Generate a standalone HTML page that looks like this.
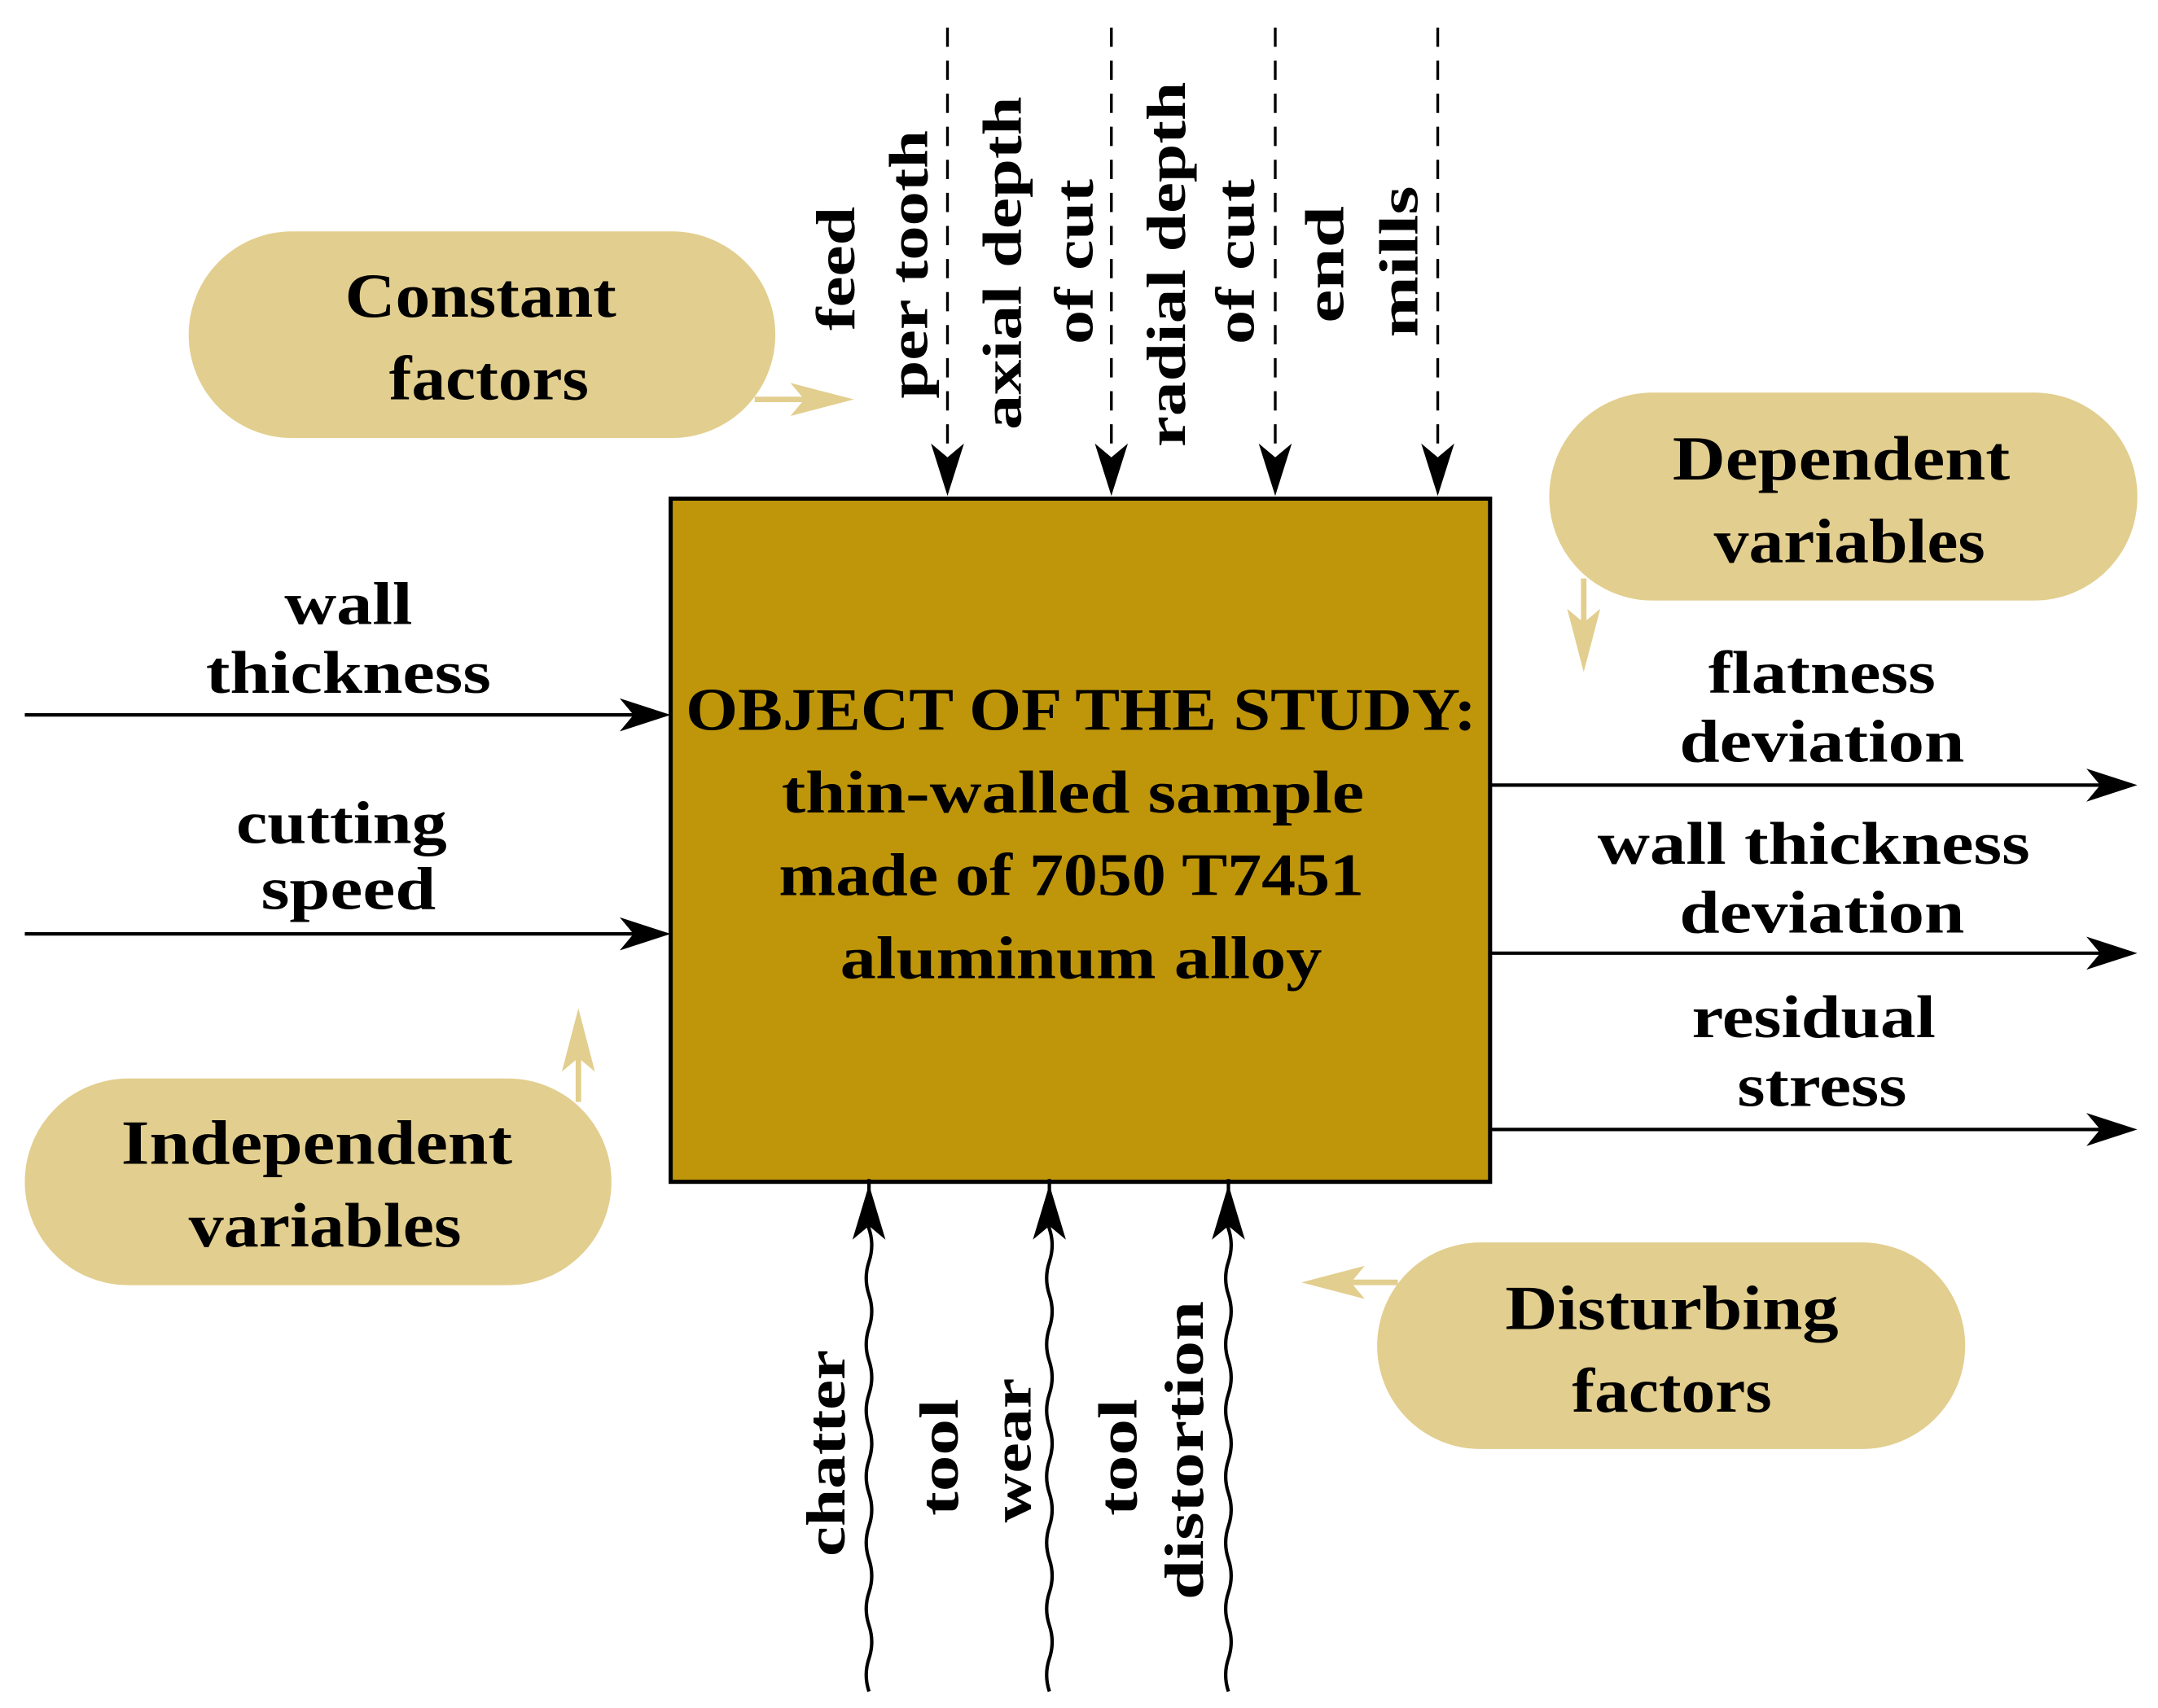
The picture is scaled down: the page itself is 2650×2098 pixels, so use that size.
<!DOCTYPE html>
<html><head><meta charset="utf-8"><style>
html,body{margin:0;padding:0;background:#fff;}
svg{display:block;}
text{font-family:"Liberation Serif",serif;font-weight:bold;fill:#000;}
.v{font-size:40px;}
</style></head><body>
<svg width="2650" height="2098" viewBox="0 0 1567 1240" preserveAspectRatio="none" xmlns="http://www.w3.org/2000/svg">
<rect x="487" y="362" width="595" height="496" fill="#BF960A" stroke="#000" stroke-width="3"/>
<g text-anchor="middle" font-size="44" lengthAdjust="spacingAndGlyphs">
<text x="785" y="530" textLength="574" lengthAdjust="spacingAndGlyphs">OBJECT OF THE STUDY:</text>
<text x="779" y="590" textLength="423" lengthAdjust="spacingAndGlyphs">thin-walled sample</text>
<text x="778" y="650" textLength="425" lengthAdjust="spacingAndGlyphs">made of 7050 T7451</text>
<text x="785" y="710" textLength="350" lengthAdjust="spacingAndGlyphs">aluminum alloy</text>
</g>
<g fill="#E2CE8E">
<rect x="137" y="168" width="426" height="150" rx="75"/>
<rect x="1125" y="285" width="427" height="151" rx="75"/>
<rect x="18" y="783" width="426" height="150" rx="75"/>
<rect x="1000" y="902" width="427" height="150" rx="75"/>
</g>
<g text-anchor="middle" font-size="46">
<text x="349" y="230" textLength="197" lengthAdjust="spacingAndGlyphs">Constant</text>
<text x="355" y="290" textLength="145" lengthAdjust="spacingAndGlyphs">factors</text>
<text x="1337" y="348" textLength="245" lengthAdjust="spacingAndGlyphs">Dependent</text>
<text x="1343" y="408" textLength="197" lengthAdjust="spacingAndGlyphs">variables</text>
<text x="230" y="845" textLength="284" lengthAdjust="spacingAndGlyphs">Independent</text>
<text x="236" y="905" textLength="198" lengthAdjust="spacingAndGlyphs">variables</text>
<text x="1214" y="965" textLength="242" lengthAdjust="spacingAndGlyphs">Disturbing</text>
<text x="1214" y="1025" textLength="145" lengthAdjust="spacingAndGlyphs">factors</text>
</g>
<g stroke="#E2CE8E" stroke-width="4" fill="#E2CE8E">
<line x1="548" y1="290" x2="600" y2="290"/>
<line x1="1150" y1="420" x2="1150" y2="470"/>
<line x1="420" y1="800" x2="420" y2="750"/>
<line x1="1015" y1="931" x2="965" y2="931"/>
</g>
<g fill="#E2CE8E">
<polygon points="620,290 574,278 584,290 574,302"/>
<polygon points="1150,488 1138,442 1150,452 1162,442"/>
<polygon points="420,732 408,778 420,768 432,778"/>
<polygon points="945,931 991,919 981,931 991,943"/>
</g>
<g stroke="#000" stroke-width="2" stroke-dasharray="14,10">
<line x1="688" y1="20" x2="688" y2="332"/>
<line x1="807" y1="20" x2="807" y2="332"/>
<line x1="926" y1="20" x2="926" y2="332"/>
<line x1="1044" y1="20" x2="1044" y2="332"/>
</g>
<g fill="#000">
<polygon points="688,360 676,322 688,332 700,322"/>
<polygon points="807,360 795,322 807,332 819,322"/>
<polygon points="926,360 914,322 926,332 938,322"/>
<polygon points="1044,360 1032,322 1044,332 1056,322"/>
</g>
<g class="v" text-anchor="middle" dominant-baseline="central">
<text transform="translate(607,195) rotate(-90)" textLength="90" lengthAdjust="spacingAndGlyphs">feed</text>
<text transform="translate(660,192) rotate(-90)" textLength="195" lengthAdjust="spacingAndGlyphs">per tooth</text>
<text transform="translate(728,191) rotate(-90)" textLength="242" lengthAdjust="spacingAndGlyphs">axial depth</text>
<text transform="translate(780,190) rotate(-90)" textLength="120" lengthAdjust="spacingAndGlyphs">of cut</text>
<text transform="translate(847,192) rotate(-90)" textLength="265" lengthAdjust="spacingAndGlyphs">radial depth</text>
<text transform="translate(897,190) rotate(-90)" textLength="120" lengthAdjust="spacingAndGlyphs">of cut</text>
<text transform="translate(962,192) rotate(-90)" textLength="85" lengthAdjust="spacingAndGlyphs">end</text>
<text transform="translate(1016,190) rotate(-90)" textLength="110" lengthAdjust="spacingAndGlyphs">mills</text>
</g>
<g stroke="#000" stroke-width="2.5">
<line x1="18" y1="519" x2="460" y2="519"/>
<line x1="18" y1="678" x2="460" y2="678"/>
<line x1="1082" y1="570" x2="1525" y2="570"/>
<line x1="1082" y1="692" x2="1525" y2="692"/>
<line x1="1082" y1="820" x2="1525" y2="820"/>
</g>
<g fill="#000">
<polygon points="487,519 450,507 460,519 450,531"/>
<polygon points="487,678 450,666 460,678 450,690"/>
<polygon points="1552,570 1515,558 1525,570 1515,582"/>
<polygon points="1552,692 1515,680 1525,692 1515,704"/>
<polygon points="1552,820 1515,808 1525,820 1515,832"/>
</g>
<g text-anchor="middle" font-size="44">
<text x="253" y="453" textLength="93" lengthAdjust="spacingAndGlyphs">wall</text>
<text x="253" y="503" textLength="207" lengthAdjust="spacingAndGlyphs">thickness</text>
<text x="248" y="612" textLength="153" lengthAdjust="spacingAndGlyphs">cutting</text>
<text x="253" y="660" textLength="127" lengthAdjust="spacingAndGlyphs">speed</text>
<text x="1323" y="503" textLength="165" lengthAdjust="spacingAndGlyphs">flatness</text>
<text x="1323" y="553" textLength="207" lengthAdjust="spacingAndGlyphs">deviation</text>
<text x="1317" y="627" textLength="314" lengthAdjust="spacingAndGlyphs">wall thickness</text>
<text x="1323" y="677" textLength="207" lengthAdjust="spacingAndGlyphs">deviation</text>
<text x="1317" y="753" textLength="177" lengthAdjust="spacingAndGlyphs">residual</text>
<text x="1323" y="803" textLength="123" lengthAdjust="spacingAndGlyphs">stress</text>
</g>
<g stroke="#000" stroke-width="2.5" fill="none">
<path d="M631,1228 q-4,-12 0,-24 t0,-24 t0,-24 t0,-24 t0,-24 t0,-24 t0,-24 t0,-24 t0,-24 t0,-24 t0,-24 t0,-24 t0,-24 t0,-24 t0,-24 l0,-12"/>
<path d="M762,1228 q-4,-12 0,-24 t0,-24 t0,-24 t0,-24 t0,-24 t0,-24 t0,-24 t0,-24 t0,-24 t0,-24 t0,-24 t0,-24 t0,-24 t0,-24 t0,-24 l0,-12"/>
<path d="M892,1228 q-4,-12 0,-24 t0,-24 t0,-24 t0,-24 t0,-24 t0,-24 t0,-24 t0,-24 t0,-24 t0,-24 t0,-24 t0,-24 t0,-24 t0,-24 t0,-24 l0,-12"/>
</g>
<g fill="#000">
<polygon points="631,860 619,900 631,890 643,900"/>
<polygon points="762,860 750,900 762,890 774,900"/>
<polygon points="892,860 880,900 892,890 904,900"/>
</g>
<g class="v" text-anchor="middle" dominant-baseline="central">
<text transform="translate(600,1055) rotate(-90)" textLength="150" lengthAdjust="spacingAndGlyphs">chatter</text>
<text transform="translate(682,1058) rotate(-90)" textLength="85" lengthAdjust="spacingAndGlyphs">tool</text>
<text transform="translate(735,1053) rotate(-90)" textLength="105" lengthAdjust="spacingAndGlyphs">wear</text>
<text transform="translate(812,1058) rotate(-90)" textLength="85" lengthAdjust="spacingAndGlyphs">tool</text>
<text transform="translate(860,1053) rotate(-90)" textLength="217" lengthAdjust="spacingAndGlyphs">distortion</text>
</g>
</svg>
</body></html>
